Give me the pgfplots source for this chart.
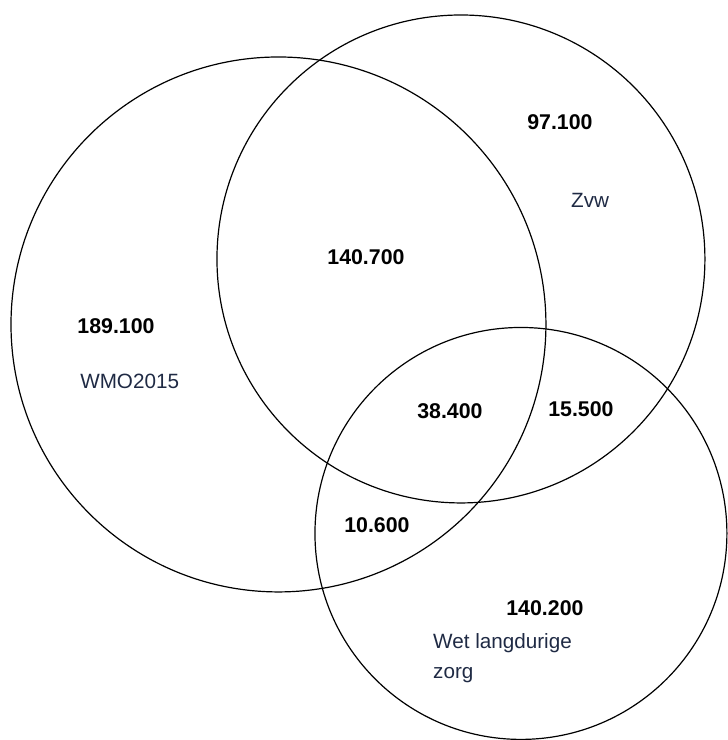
\documentclass[border=0pt]{standalone}
\usepackage{pgfplots}
\pgfplotsset{compat=1.18}
\usepackage{fontspec}
\setmainfont{Liberation Sans}
\definecolor{lab}{HTML}{1F2A44}
\begin{document}
\begin{tikzpicture}
\begin{axis}[
  width=546pt, height=555pt, scale only axis,
  xmin=0, xmax=728, ymin=0, ymax=740, y dir=reverse,
  hide axis, clip=false,
]
\path (rel axis cs:0,0) rectangle (rel axis cs:1,1);
% circles: centre x, centre y, radius (pixels of the reference)
\draw[line width=0.9pt, black] (axis cs:278.5,324.5) circle [radius=267.5];
\draw[line width=0.9pt, black] (axis cs:461,259) circle [radius=244];
\draw[line width=0.9pt, black] (axis cs:521,533.5) circle [radius=206];
\tikzset{num/.style={font=\fontsize{16}{19}\selectfont\bfseries, text=black, inner sep=0pt}}
\tikzset{lbl/.style={font=\fontsize{15.5}{18}\selectfont, text=lab, inner sep=0pt, anchor=west}}
\node[num] at (axis cs:560,122) {97.100};
\node[num] at (axis cs:366,257) {140.700};
\node[num] at (axis cs:116,326) {189.100};
\node[num] at (axis cs:450,411) {38.400};
\node[num] at (axis cs:581,409) {15.500};
\node[num] at (axis cs:377,525) {10.600};
\node[num] at (axis cs:545,608) {140.200};
\node[lbl] at (axis cs:571,200) {Zvw};
\node[lbl] at (axis cs:80,381) {WMO2015};
\node[lbl] at (axis cs:433,643) {Wet langdurige};
\node[lbl] at (axis cs:433,675) {zorg};
\end{axis}
\end{tikzpicture}
\end{document}
